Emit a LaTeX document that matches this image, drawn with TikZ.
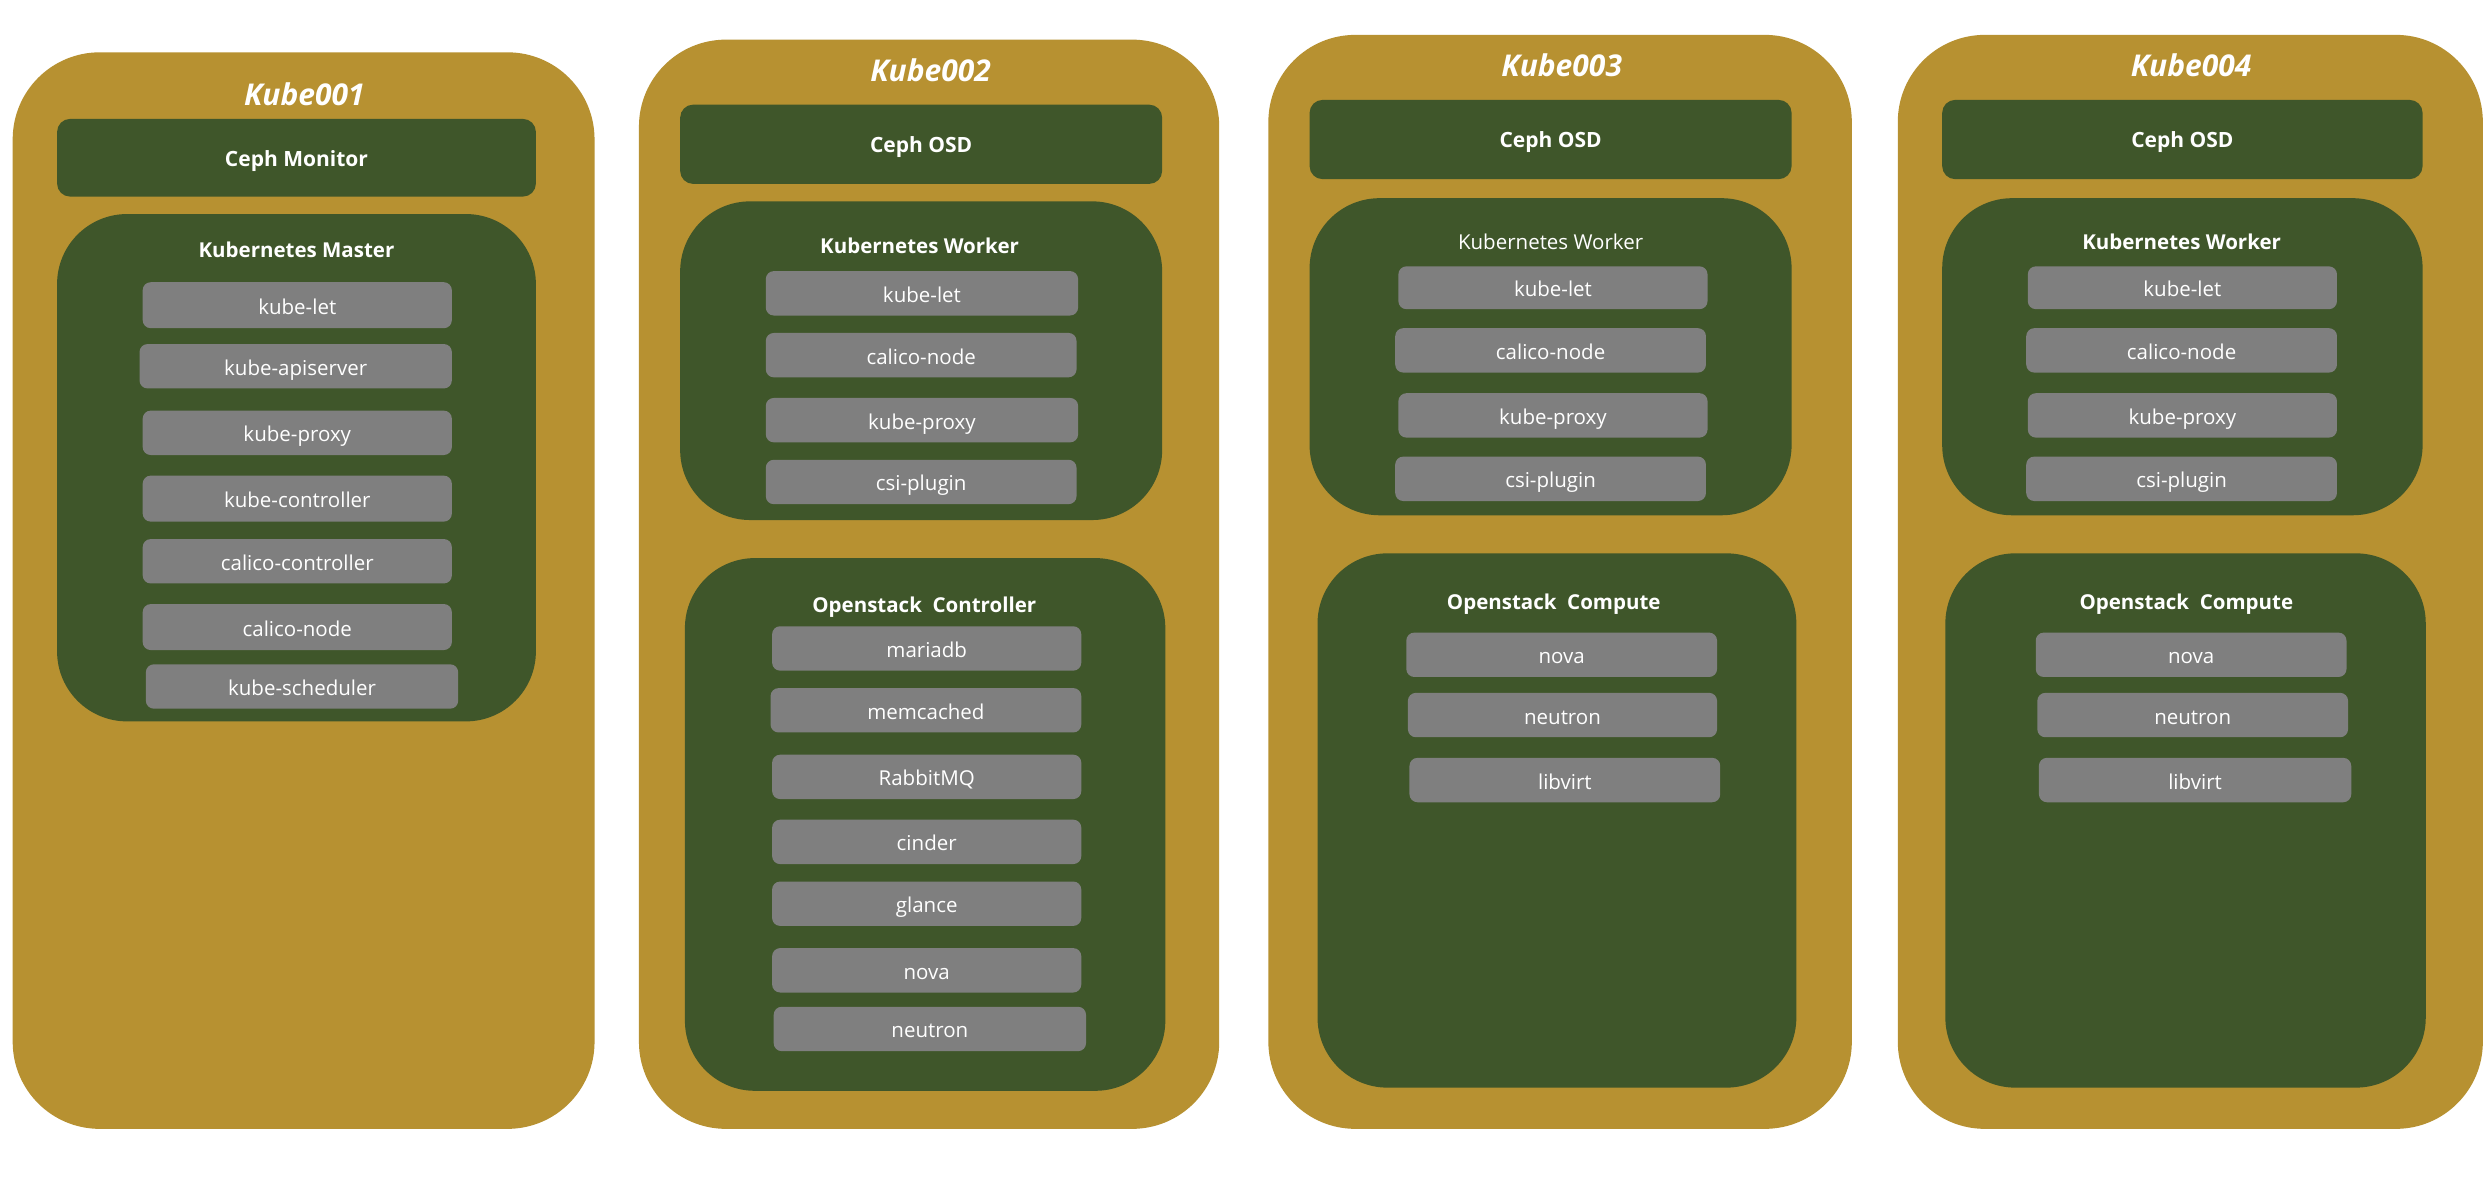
\documentclass[tikz,border=0pt]{standalone}
\usepackage{fontspec}
\setmainfont{Open Sans}
\definecolor{gold}{HTML}{B79131}
\definecolor{dgreen}{HTML}{3F562A}
\definecolor{itemgray}{HTML}{7F7F7F}
\newcommand\bx[7]{%
  \pgfmathsetmacro\cx{(#3+#5)/2}\pgfmathsetmacro\cy{(#4+#6)/2}%
  \pgfmathsetmacro\ww{(#5-#3)*1.5855}\pgfmathsetmacro\hh{(#6-#4)*1.5855}%
  \node[#2,minimum width=\ww pt,minimum height=\hh pt] (#1) at (\cx,\cy) {#7};}
\tikzset{
  base/.style={inner sep=0pt,outer sep=0pt,text=white,text height=16.5pt,text depth=0pt},
  host/.style={base,fill=gold,rounded corners=87pt},
  ceph/.style={base,fill=dgreen,rounded corners=13pt,font=\fontsize{21}{24}\selectfont\bfseries},
  group/.style={base,fill=dgreen,rounded corners=70pt},
  item/.style={base,text height=18pt,fill=itemgray,rounded corners=8pt,font=\fontsize{20.5}{24}\selectfont},
  hosttitle/.style={base,text height=23pt,font=\fontsize{30}{34}\selectfont\bfseries\itshape},
  grouptitle/.style={base,font=\fontsize{20.5}{24}\selectfont\bfseries},
  grouptitlereg/.style={base,font=\fontsize{20.5}{24}\selectfont},
}
\begin{document}
\begin{tikzpicture}[x=1.5855pt,y=-1.5855pt]
\useasboundingbox[fill=white] (0,0) rectangle (1568,742);
% ---------- Kube001 ----------
\bx{h1}{host}{8}{33}{375}{712}{}
\node[hosttitle] (h1t) at (192,59) {Kube001};
\bx{h1c}{ceph}{36}{75}{338}{124}{Ceph Monitor}
\bx{h1k}{group}{36}{135}{338}{455}{}
\node[grouptitle] (h1kt) at (187,157) {Kubernetes Master};
\bx{h1a}{item}{90}{178}{285}{207}{kube-let}
\bx{h1b}{item}{88}{217}{285}{245}{kube-apiserver}
\bx{h1c2}{item}{90}{259}{285}{287}{kube-proxy}
\bx{h1d}{item}{90}{300}{285}{329}{kube-controller}
\bx{h1e}{item}{90}{340}{285}{368}{calico-controller}
\bx{h1f}{item}{90}{381}{285}{410}{calico-node}
\bx{h1g}{item}{92}{419}{289}{447}{kube-scheduler}
% ---------- Kube002 ----------
\bx{h2}{host}{403}{25}{769}{712}{}
\node[hosttitle] (h2t) at (587,44) {Kube002};
\bx{h2c}{ceph}{429}{66}{733}{116}{Ceph OSD}
\bx{h2k}{group}{429}{127}{733}{328}{}
\node[grouptitle] (h2kt) at (580,155) {Kubernetes Worker};
\bx{h2a}{item}{483}{171}{680}{199}{kube-let}
\bx{h2b}{item}{483}{210}{679}{238}{calico-node}
\bx{h2c2}{item}{483}{251}{680}{279}{kube-proxy}
\bx{h2d}{item}{483}{290}{679}{318}{csi-plugin}
\bx{h2o}{group}{432}{352}{735}{688}{}
\node[grouptitle] (h2ot) at (583,381) {Openstack\ \ Controller};
\bx{h2oa}{item}{487}{395}{682}{423}{mariadb}
\bx{h2ob}{item}{486}{434}{682}{462}{memcached}
\bx{h2oc}{item}{487}{476}{682}{504}{RabbitMQ}
\bx{h2od}{item}{487}{517}{682}{545}{cinder}
\bx{h2oe}{item}{487}{556}{682}{584}{glance}
\bx{h2of}{item}{487}{598}{682}{626}{nova}
\bx{h2og}{item}{488}{635}{685}{663}{neutron}
% ---------- Kube003 ----------
\bx{h3}{host}{800}{22}{1168}{712}{}
\node[hosttitle] (h3t) at (985,41) {Kube003};
\bx{h3c}{ceph}{826}{63}{1130}{113}{Ceph OSD}
\bx{h3k}{group}{826}{125}{1130}{325}{}
\node[grouptitlereg] (h3kt) at (978,152) {Kubernetes Worker};
\bx{h3a}{item}{882}{168}{1077}{195}{kube-let}
\bx{h3b}{item}{880}{207}{1076}{235}{calico-node}
\bx{h3c2}{item}{882}{248}{1077}{276}{kube-proxy}
\bx{h3d}{item}{880}{288}{1076}{316}{csi-plugin}
\bx{h3o}{group}{831}{349}{1133}{686}{}
\node[grouptitle] (h3ot) at (980,379) {Openstack\ \ Compute};
\bx{h3oa}{item}{887}{399}{1083}{427}{nova}
\bx{h3ob}{item}{888}{437}{1083}{465}{neutron}
\bx{h3oc}{item}{889}{478}{1085}{506}{libvirt}
% ---------- Kube004 ----------
\bx{h4}{host}{1197}{22}{1566}{712}{}
\node[hosttitle] (h4t) at (1382,41) {Kube004};
\bx{h4c}{ceph}{1225}{63}{1528}{113}{Ceph OSD}
\bx{h4k}{group}{1225}{125}{1528}{325}{}
\node[grouptitle] (h4kt) at (1376,152) {Kubernetes Worker};
\bx{h4a}{item}{1279}{168}{1474}{195}{kube-let}
\bx{h4b}{item}{1278}{207}{1474}{235}{calico-node}
\bx{h4c2}{item}{1279}{248}{1474}{276}{kube-proxy}
\bx{h4d}{item}{1278}{288}{1474}{316}{csi-plugin}
\bx{h4o}{group}{1227}{349}{1530}{686}{}
\node[grouptitle] (h4ot) at (1379,379) {Openstack\ \ Compute};
\bx{h4oa}{item}{1284}{399}{1480}{427}{nova}
\bx{h4ob}{item}{1285}{437}{1481}{465}{neutron}
\bx{h4oc}{item}{1286}{478}{1483}{506}{libvirt}
\end{tikzpicture}
\end{document}
